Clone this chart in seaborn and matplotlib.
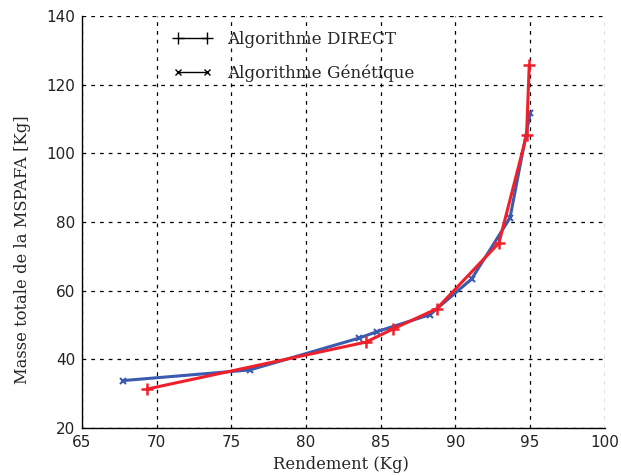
import matplotlib
matplotlib.use("Agg")
import matplotlib.pyplot as plt
import seaborn as sns
import pandas as pd
from matplotlib.lines import Line2D

# Data
direct_x = [69.33, 84.0, 85.8, 88.74, 92.91, 94.76, 94.94]
direct_y = [31.3, 45.0, 48.8, 54.7, 73.9, 105.3, 125.8]
gen_x = [67.76, 76.24, 83.56, 84.77, 88.29, 91.08, 93.65, 95.0]
gen_y = [33.8, 36.9, 46.2, 48.1, 53.0, 63.4, 81.2, 111.7]

x_ticks = [65, 70, 75, 80, 85, 90, 95, 100]
y_ticks = [20, 40, 60, 80, 100, 120, 140]
labels = ["Algorithme DIRECT", "Algorithme Génétique"]

sns.set_style("white")
plt.rcParams["font.family"] = ["DejaVu Serif", "Liberation Serif"]

df_d = pd.DataFrame({"x": direct_x, "y": direct_y})
df_g = pd.DataFrame({"x": gen_x, "y": gen_y})

fig = plt.figure(figsize=(6.21, 4.76), dpi=100)
ax = fig.add_axes([0.132, 0.101, 0.842, 0.865])

sns.lineplot(data=df_g, x="x", y="y", sort=False, ax=ax, color="#3a5bb0",
             lw=2.2, marker="x", markersize=5, markeredgewidth=1.5,
             markeredgecolor="#3a5bb0", estimator=None)
sns.lineplot(data=df_d, x="x", y="y", sort=False, ax=ax, color="#f0202a",
             lw=2.2, marker="+", markersize=9, markeredgewidth=1.8,
             markeredgecolor="#f0202a", estimator=None)

ax.set_xlim(65, 100)
ax.set_ylim(20, 140)
ax.set_xticks(x_ticks)
ax.set_yticks(y_ticks)
ax.tick_params(direction="in", length=3, color="black", pad=5)
for lab in ax.get_xticklabels() + ax.get_yticklabels():
    lab.set_family(["DejaVu Sans"])
    lab.set_fontsize(11)
    lab.set_color("#222222")
for side in ["top", "right"]:
    ax.spines[side].set_visible(False)
for side in ["left", "bottom"]:
    ax.spines[side].set_color("black")
    ax.spines[side].set_linewidth(1.0)
ax.grid(True, color="black", linestyle=(0, (3, 4)), linewidth=0.9)

ax.set_xlabel("Rendement (Kg)", fontsize=11.8)
ax.set_ylabel("Masse totale de la MSPAFA [Kg]", fontsize=11.8)
ax.xaxis.set_label_coords(0.495, -0.068)
ax.yaxis.set_label_coords(-0.098, 0.433)

handles = [
    Line2D([0], [0], color="black", lw=1, marker="+", markersize=9),
    Line2D([0], [0], color="black", lw=1, marker="x", markersize=5),
]
ax.legend(handles, labels, loc="upper left", bbox_to_anchor=(0.145, 1.0),
          frameon=False, numpoints=2, fontsize=12.1, handlelength=2.3,
          handletextpad=0.9, labelspacing=0.95)

fig.savefig("out.png", dpi=100)
